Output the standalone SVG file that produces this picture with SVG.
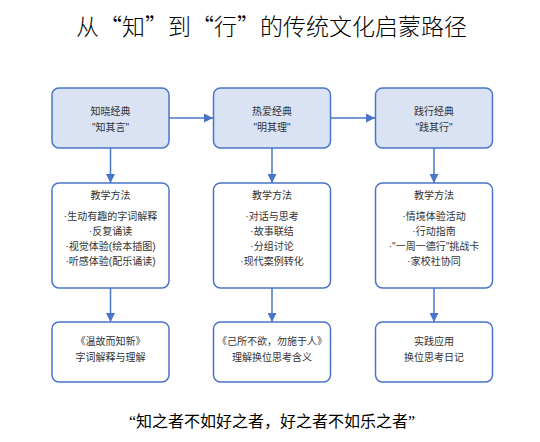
<svg xmlns="http://www.w3.org/2000/svg" width="540" height="442" viewBox="0 0 540 442">
<defs>
<style>
.head{fill:#dae3f3;stroke:#4a74c9;stroke-width:1.5}
.box{fill:#ffffff;stroke:#4a74c9;stroke-width:1.5}
.t{font-family:"Liberation Sans","Noto Sans CJK SC",sans-serif;font-size:10px;fill:#333333;text-anchor:middle}
.title{font-family:"Noto Sans CJK SC",serif;font-size:23px;font-weight:300;fill:#000000;text-anchor:middle}
.foot{font-family:"Liberation Serif","Noto Sans CJK SC",serif;font-size:16px;fill:#000000;text-anchor:middle}
.conn{stroke:#4a74c9;stroke-width:1.5;fill:none;marker-end:url(#ah)}
</style>
<marker id="ah" viewBox="0 0 10 10" refX="10" refY="5" markerWidth="6" markerHeight="6" markerUnits="strokeWidth" orient="auto">
<path d="M0,0 L10,5 L0,10 z" fill="#4a74c9"/>
</marker>
</defs>
<rect width="540" height="442" fill="#ffffff"/>
<text class="title" x="271.5" y="35">从“知”到“行”的传统文化启蒙路径</text>

<g id="connectors">
<line class="conn" x1="169" y1="118" x2="213" y2="118"/>
<line class="conn" x1="331" y1="118" x2="375" y2="118"/>
<line class="conn" x1="110.5" y1="148" x2="110.5" y2="183"/>
<line class="conn" x1="272" y1="148" x2="272" y2="183"/>
<line class="conn" x1="434" y1="148" x2="434" y2="183"/>
<line class="conn" x1="110.5" y1="288" x2="110.5" y2="322"/>
<line class="conn" x1="272" y1="288" x2="272" y2="322"/>
<line class="conn" x1="434" y1="288" x2="434" y2="322"/>
</g>

<g id="n1">
<rect class="head" x="52" y="88" width="117" height="60" rx="7"/>
<text class="t" x="110.5" y="115">知晓经典</text>
<text class="t" x="110.5" y="131">"知其言"</text>
</g>
<g id="n2">
<rect class="head" x="213.5" y="88" width="117" height="60" rx="7"/>
<text class="t" x="272" y="115">热爱经典</text>
<text class="t" x="272" y="131">"明其理"</text>
</g>
<g id="n3">
<rect class="head" x="375.5" y="88" width="117" height="60" rx="7"/>
<text class="t" x="434" y="115">践行经典</text>
<text class="t" x="434" y="131">"践其行"</text>
</g>

<g id="m1">
<rect class="box" x="52" y="183" width="117" height="105" rx="7"/>
<text class="t" x="110.5" y="199">教学方法</text>
<text class="t" x="110.5" y="220">·生动有趣的字词解释</text>
<text class="t" x="110.5" y="235">·反复诵读</text>
<text class="t" x="110.5" y="250">·视觉体验(绘本插图)</text>
<text class="t" x="110.5" y="265">·听感体验(配乐诵读)</text>
</g>
<g id="m2">
<rect class="box" x="213.5" y="183" width="117" height="105" rx="7"/>
<text class="t" x="272" y="199">教学方法</text>
<text class="t" x="272" y="220">·对话与思考</text>
<text class="t" x="272" y="235">·故事联结</text>
<text class="t" x="272" y="250">·分组讨论</text>
<text class="t" x="272" y="265">·现代案例转化</text>
</g>
<g id="m3">
<rect class="box" x="375.5" y="183" width="117" height="105" rx="7"/>
<text class="t" x="434" y="199">教学方法</text>
<text class="t" x="434" y="220">·情境体验活动</text>
<text class="t" x="434" y="235">·行动指南</text>
<text class="t" x="434" y="250">·"一周一德行"挑战卡</text>
<text class="t" x="434" y="265">·家校社协同</text>
</g>

<g id="b1">
<rect class="box" x="52" y="322" width="117" height="60" rx="7"/>
<text class="t" x="110.5" y="345">《温故而知新》</text>
<text class="t" x="110.5" y="361">字词解释与理解</text>
</g>
<g id="b2">
<rect class="box" x="213.5" y="322" width="117" height="60" rx="7"/>
<text class="t" x="272" y="345">《己所不欲，勿施于人》</text>
<text class="t" x="272" y="361">理解换位思考含义</text>
</g>
<g id="b3">
<rect class="box" x="375.5" y="322" width="117" height="60" rx="7"/>
<text class="t" x="434" y="345">实践应用</text>
<text class="t" x="434" y="361">换位思考日记</text>
</g>

<text class="foot" x="272" y="427">“知之者不如好之者，好之者不如乐之者”</text>
</svg>
